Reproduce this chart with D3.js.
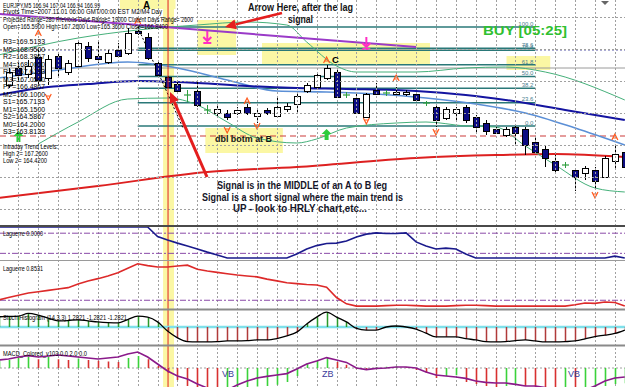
<!DOCTYPE html>
<html>
<head>
<meta charset="utf-8">
<script src="https://cdn.jsdelivr.net/npm/d3@7"></script>
<style>
  body { margin: 0; background: #fff; }
  svg { display: block; font-family: "Liberation Sans", Arial, sans-serif; }
</style>
</head>
<body>
<svg id="chart" width="625" height="387"></svg>
<script>
// EURJPY M5 bars, index 0..62
const open  = [166.875,166.96,166.93,167.015,166.91,167.02,166.94,166.97,167.07,167.02,166.99,167.05,167.035,167.145,167.115,166.985,166.915,166.88,166.825,166.845,166.75,166.735,166.735,166.735,166.765,166.72,166.75,166.72,166.755,166.78,166.845,166.865,166.91,166.94,166.825,166.81,166.715,166.85,166.835,166.83,166.83,166.83,166.785,166.765,166.71,166.735,166.765,166.715,166.685,166.655,166.625,166.665,166.655,166.59,166.555,166.495,166.475,166.45,166.435,166.45,166.415,166.495,166.54];
const high  = [166.96,166.985,167.00,167.05,167.025,167.04,167.00,167.10,167.09,167.10,167.05,167.085,167.16,167.165,167.135,167.00,166.92,166.89,166.85,166.89,166.775,166.775,166.75,166.765,166.78,166.75,166.76,166.815,166.785,166.835,166.885,166.935,166.975,166.96,166.84,166.83,166.835,166.885,166.85,166.865,166.85,166.835,166.795,166.775,166.765,166.765,166.775,166.725,166.70,166.665,166.665,166.675,166.665,166.61,166.575,166.525,166.49,166.46,166.47,166.465,166.52,166.575,166.56];
const low   = [166.86,166.90,166.91,166.875,166.875,166.915,166.925,166.965,166.99,166.985,166.98,167.015,167.025,167.125,167.00,166.915,166.86,166.835,166.79,166.765,166.73,166.71,166.70,166.725,166.725,166.685,166.725,166.715,166.74,166.74,166.835,166.86,166.90,166.81,166.81,166.73,166.71,166.825,166.82,166.825,166.82,166.79,166.77,166.665,166.70,166.70,166.685,166.64,166.625,166.63,166.615,166.575,166.525,166.53,166.465,166.435,166.46,166.345,166.40,166.36,166.41,166.46,166.45];
const close = [166.94,166.925,166.97,166.90,167.005,166.96,166.985,167.085,167.01,167.005,167.035,167.02,167.135,167.135,167.01,166.925,166.865,166.845,166.825,166.775,166.75,166.755,166.715,166.75,166.735,166.735,166.735,166.765,166.77,166.82,166.875,166.925,166.96,166.815,166.825,166.735,166.83,166.83,166.835,166.84,166.84,166.80,166.785,166.70,166.755,166.755,166.70,166.665,166.645,166.635,166.655,166.635,166.575,166.54,166.51,166.45,166.475,166.415,166.46,166.395,166.51,166.53,166.465];

// moving averages and bands, read at sample bars
const navyIdx  = [-1,4,8,13,19,24,29,34,41,46,50,56,62];
const navyVal  = [166.825,166.865,166.88,166.895,166.885,166.87,166.86,166.855,166.845,166.825,166.80,166.75,166.70];
const lightIdx = [-1,5,12,17,22,27,32,37,42,47,52,57,62];
const lightVal = [166.91,166.95,166.99,166.96,166.90,166.845,166.84,166.83,166.81,166.78,166.735,166.66,166.575];
const upperIdx = [-1,7,13,19,24,28,30,33,35,41,46,50,54,62];
const upperVal = [167.025,167.11,167.15,167.175,167.19,167.175,167.09,166.97,166.94,166.94,166.96,166.965,166.94,166.80];
const lowerIdx = [3,7,12,16,19,22,25,29,31,34,39,42,46,49,52,55,59,62];
const lowerVal = [166.58,166.69,166.805,166.81,166.775,166.69,166.61,166.585,166.605,166.66,166.685,166.69,166.67,166.665,166.57,166.475,166.36,166.34];
const redIdx   = [-1,9,20,29,41,49,55,62];
const redVal   = [166.31,166.37,166.44,166.465,166.51,166.525,166.53,166.515];

// trend line, zigzag leg, fibo
const trendIdx = [-1,41], trendVal = [167.23,167.065];
const zigIdx = [13,17.6], zigVal = [167.165,166.655];
const fibIdx = [13,53], fibHigh = 167.165, fibLow = 166.67;
const fibLevels = [100,78.6,76.4,61.8,50,38.2,23.6,0];

// full width levels
const redDashLevel = 166.62, bidLevel = 166.96, dotLevel = 167.05;
const gridPrices = [167.215,167.055,166.895,166.735,166.575,166.415,166.255];

// signals
const fracUpIdx = [3,13,24,32,39,61], fracUpVal = [167.135,167.195,166.795,167.00,166.91,166.615];
const fracDnIdx = [4,22,25,36,43,59], fracDnVal = [166.815,166.65,166.67,166.695,166.64,166.325];
const pinkIdx = [20,36], pinkVal = [167.115,167.085];
const greenIdx = [1,32], greenVal = [166.615,166.625];

// pivots
const pivotNames = ["R3","M5","R2","M4","R1","M3","PP","M2","S1","M1","S2","M0","S3"];
const pivotVals  = [169.5133,168.95,168.3867,168.0,167.6133,167.05,166.4867,166.1,165.7133,165.15,164.5867,164.2,163.8133];

// indicator series, first value is the bar left of candle 0
const lag1 = [1,1,1,1,1,1,1,1,1,1,1,1,1,1,1,1,0.69,0.58,0.48,0.39,0.29,0.19,0.10,0,0,0,0,0,0,0,0.13,0.29,0.40,0.47,0.48,0.55,0.68,0.77,0.81,0.79,0.79,0.81,0.52,0.39,0.29,0.32,0.29,0.13,0,0,0,0,0,0,0,0,0,0,0,0,0,0,0.06,0];
const lag2 = [0.155,0.21,0.26,0.31,0.34,0.37,0.40,0.43,0.51,0.58,0.63,0.69,0.76,0.86,0.96,0.92,0.89,0.89,0.91,0.93,0.84,0.80,0.77,0.74,0.71,0.69,0.67,0.62,0.58,0.54,0.52,0.50,0.49,0.44,0.21,0.07,0.02,0.02,0.02,0.03,0.04,0.04,0.03,0.02,0.02,0.02,0.03,0.04,0.04,0.03,0.02,0.02,0.02,0.02,0.02,0.02,0.02,0.02,0.05,0.09,0.08,0.11,0.10,0.02];
const stoch = [30,31,32,40,35,26,18,19,21,18,15,13,12,22,32,29,15,-12,-32,-43,-44,-44,-43,-41,-41,-40,-38,-38,-34,-26,-15,9,29,44,29,15,-4,-9,-9,0,3,0,-6,-18,-29,-29,-29,-34,-38,-43,-44,-43,-40,-38,-41,-44,-44,-43,-41,-35,-28,-24,-19,-9];
const macdBar = [0.018,0.02,0.025,0.028,0.022,0.028,0.022,0.02,0.024,0.02,0.018,0.016,0.015,0.025,0.03,0.022,0.005,-0.012,-0.03,-0.045,-0.05,-0.055,-0.06,-0.055,-0.05,-0.048,-0.046,-0.045,-0.042,-0.035,-0.02,0.012,0.018,0.025,0.015,0.008,-0.002,-0.004,0.002,0.003,0.004,0.002,-0.005,-0.012,-0.025,-0.02,-0.018,-0.035,-0.04,-0.045,-0.05,-0.045,-0.04,-0.045,-0.05,-0.055,-0.06,-0.058,-0.06,-0.055,-0.05,-0.045,-0.04,-0.038];
const macdSig = [0.02,0.0225,0.0275,0.031,0.0275,0.03,0.0325,0.03,0.0275,0.025,0.0225,0.025,0.0275,0.035,0.04,0.0275,0.01,-0.0075,-0.02,-0.0275,-0.04,-0.05,-0.0575,-0.055,-0.0425,-0.0325,-0.025,-0.021,-0.0175,-0.014,-0.0025,0.01,0.0175,0.026,0.02,0.014,0,-0.004,-0.001,0,0.0025,0.0025,0,-0.01,-0.0175,-0.02,-0.0225,-0.026,-0.0325,-0.036,-0.0375,-0.0375,-0.041,-0.045,-0.045,-0.049,-0.0525,-0.0575,-0.06,-0.055,-0.045,-0.0325,-0.025,-0.0225];
const lagLevels1 = [0.8,0.15], lagLevels2 = [0.15];

const W = 625, H = 387;
const svg = d3.select("#chart");

var x = d3.scaleLinear().domain([0, 62]).range([8.5, 624.8]);
var y = d3.scaleLinear().domain([166.175, 167.30]).range([225, 0]);
var yL1 = d3.scaleLinear().domain([0, 1]).range([258, 227]);
var yL2 = d3.scaleLinear().domain([0, 1]).range([307, 262]);
var yS = d3.scaleLinear().domain([-50, 50]).range([344, 310]);
var yM = d3.scaleLinear().domain([-0.05, 0.05]).range([388, 348]);

const defs = svg.append("defs");
[["cMain",0,225],["cL1",226.5,33],["cL2",261,47],["cS",310.5,34.5],["cM",346.5,41]].forEach(([id,top,h]) => {
  defs.append("clipPath").attr("id", id).append("rect")
    .attr("x", 0).attr("y", top).attr("width", W).attr("height", h);
});

const yellow = "#fbf7a4";

// highlight column at the signal bar
svg.append("rect")
  .attr("x", x(15.55)).attr("y", 0)
  .attr("width", x(16.65) - x(15.55)).attr("height", H)
  .attr("fill", yellow);

const main = svg.append("g").attr("clip-path", "url(#cMain)");

// highlight boxes (bar index / price)
const boxes = [[11.2,16.8,167.30,167.255],[19,22.9,167.20,167.025],[25.5,42.4,167.085,166.975],[50.1,54.5,167.02,166.95],[19.8,27.6,166.66,166.535]];
main.selectAll("rect.hl").data(boxes).enter().append("rect")
  .attr("x", d => x(d[0])).attr("y", d => y(d[2]))
  .attr("width", d => x(d[1]) - x(d[0])).attr("height", d => y(d[3]) - y(d[2]))
  .attr("fill", yellow);

// grid
const grid = svg.append("g").attr("stroke", "#a0a0a0").attr("stroke-dasharray", "2,2").attr("stroke-width", 1);
grid.selectAll("line.v").data(d3.range(1, 62, 2)).enter().append("line")
  .attr("x1", d => Math.round(x(d)) + 0.5).attr("x2", d => Math.round(x(d)) + 0.5)
  .attr("y1", 0).attr("y2", H);
grid.selectAll("line.h").data(gridPrices).enter().append("line")
  .attr("x1", 0).attr("x2", W)
  .attr("y1", d => Math.round(y(d)) + 0.5).attr("y2", d => Math.round(y(d)) + 0.5);

// full width levels
main.append("line").attr("x1", 0).attr("x2", W).attr("y1", y(bidLevel)).attr("y2", y(bidLevel))
  .attr("stroke", "#9a9a9a").attr("stroke-width", 1);
main.append("line").attr("x1", 0).attr("x2", W).attr("y1", y(dotLevel)).attr("y2", y(dotLevel))
  .attr("stroke", "#5a5aa8").attr("stroke-dasharray", "2,2").attr("stroke-width", 1);
main.append("line").attr("x1", 0).attr("x2", W).attr("y1", y(redDashLevel)).attr("y2", y(redDashLevel))
  .attr("stroke", "#cc3a3a").attr("stroke-dasharray", "6,4").attr("stroke-width", 1.2);

// fibo levels
const fibY = lv => y(fibLow + (fibHigh - fibLow) * lv / 100);
main.selectAll("line.fib").data(fibLevels).enter().append("line")
  .attr("x1", x(fibIdx[0])).attr("x2", x(fibIdx[1]))
  .attr("y1", fibY).attr("y2", fibY)
  .attr("stroke", "#2a7878").attr("stroke-width", 1.5);
main.selectAll("text.fib").data(fibLevels).enter().append("text")
  .attr("x", x(fibIdx[1]) - 2).attr("y", d => fibY(d) - 1.2)
  .attr("text-anchor", "end").attr("font-size", 6).attr("fill", "#4a8090")
  .text(d => d.toFixed(1));

// averages and bands
const curve = d3.line().x(d => x(d[0])).y(d => y(d[1])).curve(d3.curveMonotoneX);
function drawLine(idx, val, color, w) {
  main.append("path").datum(idx.map((d, i) => [d, val[i]]))
    .attr("d", curve).attr("fill", "none").attr("stroke", color).attr("stroke-width", w);
}
drawLine(redIdx, redVal, "#dd2020", 2);
drawLine(upperIdx, upperVal, "#45b07a", 1);
drawLine(lowerIdx, lowerVal, "#45b07a", 1);
drawLine(lightIdx, lightVal, "#5b8fd6", 1.6);
drawLine(navyIdx, navyVal, "#1414a0", 2);

main.append("line")
  .attr("x1", x(trendIdx[0])).attr("y1", y(trendVal[0]))
  .attr("x2", x(trendIdx[1])).attr("y2", y(trendVal[1]))
  .attr("stroke", "#9a3ac8").attr("stroke-width", 2);
main.append("line")
  .attr("x1", x(zigIdx[0])).attr("y1", y(zigVal[0]))
  .attr("x2", x(zigIdx[1])).attr("y2", y(zigVal[1]))
  .attr("stroke", "#000").attr("stroke-dasharray", "2,2").attr("stroke-width", 1);

// candles
const bars = open.map((o, i) => ({i: i, o: o, h: high[i], l: low[i], c: close[i]}));
const px = d => Math.round(x(d.i)) + 0.5;
main.selectAll("line.wick").data(bars).enter().append("line")
  .attr("x1", px).attr("x2", px)
  .attr("y1", d => y(d.h)).attr("y2", d => y(d.l))
  .attr("stroke", d => d.o === d.c ? "#2e9e3e" : "#000").attr("stroke-width", 1);
main.selectAll("rect.body").data(bars.filter(d => d.o !== d.c)).enter().append("rect")
  .attr("x", d => px(d) - 3).attr("width", 6)
  .attr("y", d => Math.round(y(Math.max(d.o, d.c))) + 0.5)
  .attr("height", d => Math.max(1, Math.round(y(Math.min(d.o, d.c)) - y(Math.max(d.o, d.c)))))
  .attr("fill", d => d.c < d.o ? "#0c0c82" : "#fff")
  .attr("stroke", "#000").attr("stroke-width", 1);
main.selectAll("line.doji").data(bars.filter(d => d.o === d.c)).enter().append("line")
  .attr("x1", d => px(d) - 3.5).attr("x2", d => px(d) + 3.5)
  .attr("y1", d => y(d.o)).attr("y2", d => y(d.o))
  .attr("stroke", "#2e9e3e").attr("stroke-width", 1.2);

// fractal marks
main.selectAll("path.fu").data(fracUpIdx.map((d, i) => [d, fracUpVal[i]])).enter().append("path")
  .attr("transform", d => `translate(${x(d[0])},${y(d[1])})`)
  .attr("d", "M-3,3L0,-3L3,3M-1.5,1H1.5").attr("fill", "none")
  .attr("stroke", "#ff5a1e").attr("stroke-width", 1.2);
main.selectAll("path.fd").data(fracDnIdx.map((d, i) => [d, fracDnVal[i]])).enter().append("path")
  .attr("transform", d => `translate(${x(d[0])},${y(d[1])})`)
  .attr("d", "M-3,-3L0,3L3,-3M-1.5,-1H1.5").attr("fill", "none")
  .attr("stroke", "#ff5a1e").attr("stroke-width", 1.2);

// signal arrows
main.selectAll("path.pink").data(pinkIdx.map((d, i) => [d, pinkVal[i]])).enter().append("path")
  .attr("transform", d => `translate(${x(d[0])},${y(d[1])})`)
  .attr("d", "M0,-6V4M-4,0L0,4L4,0M-4,6H4").attr("fill", "none")
  .attr("stroke", "#ff2ec4").attr("stroke-width", 2);
main.selectAll("path.green").data(greenIdx.map((d, i) => [d, greenVal[i]])).enter().append("path")
  .attr("transform", d => `translate(${x(d[0])},${y(d[1])})`)
  .attr("d", "M0,-6L5,-1L2,-1L2,5L-2,5L-2,-1L-5,-1Z")
  .attr("fill", "#2ecc3a");

// signal bar marker line
svg.append("line").attr("x1", x(16.05)).attr("x2", x(16.05)).attr("y1", 0).attr("y2", H)
  .attr("stroke", "#e02020").attr("stroke-width", 1);

// ---- indicator panels ----
const ind = lag1.map((d, i) => i - 1);

const g1 = svg.append("g").attr("clip-path", "url(#cL1)");
g1.selectAll("line.lv").data(lagLevels1).enter().append("line")
  .attr("x1", 0).attr("x2", W).attr("y1", yL1).attr("y2", yL1)
  .attr("stroke", "#8a4aa8").attr("stroke-dasharray", "6,2,2,2");
g1.append("path").datum(lag1)
  .attr("d", d3.line().x((d, i) => x(ind[i])).y(d => yL1(d)))
  .attr("fill", "none").attr("stroke", "#1a1a8c").attr("stroke-width", 1.6);

const g2 = svg.append("g").attr("clip-path", "url(#cL2)");
g2.selectAll("line.lv").data(lagLevels2).enter().append("line")
  .attr("x1", 0).attr("x2", W).attr("y1", yL2).attr("y2", yL2)
  .attr("stroke", "#8a4aa8").attr("stroke-dasharray", "6,2,2,2");
g2.append("path").datum(lag2)
  .attr("d", d3.line().x((d, i) => x(ind[i])).y(d => yL2(d)))
  .attr("fill", "none").attr("stroke", "#dd2a2a").attr("stroke-width", 1.6);

const g3 = svg.append("g").attr("clip-path", "url(#cS)");
g3.append("line").attr("x1", 0).attr("x2", W).attr("y1", yS(0)).attr("y2", yS(0))
  .attr("stroke", "#7fe0ea").attr("stroke-width", 2.5);
g3.selectAll("line.sb").data(stoch).enter().append("line")
  .attr("x1", (d, i) => Math.round(x(ind[i])) + 0.5).attr("x2", (d, i) => Math.round(x(ind[i])) + 0.5)
  .attr("y1", yS(0)).attr("y2", d => yS(d))
  .attr("stroke", d => d > 0 ? "#2a9a2a" : "#b03a3a").attr("stroke-width", 1.5);
g3.append("path").datum(stoch)
  .attr("d", d3.line().x((d, i) => x(ind[i])).y(d => yS(d)).curve(d3.curveMonotoneX))
  .attr("fill", "none").attr("stroke", "#000").attr("stroke-width", 1.3);

const g4 = svg.append("g").attr("clip-path", "url(#cM)");
g4.append("line").attr("x1", 0).attr("x2", W).attr("y1", yM(0)).attr("y2", yM(0))
  .attr("stroke", "#a0a0a0").attr("stroke-dasharray", "2,2");
g4.selectAll("line.mb").data(macdBar).enter().append("line")
  .attr("x1", (d, i) => Math.round(x(ind[i])) + 0.5).attr("x2", (d, i) => Math.round(x(ind[i])) + 0.5)
  .attr("y1", yM(0)).attr("y2", d => yM(d))
  .attr("stroke", (d, i) => i === 0 || d >= macdBar[i - 1] ? "#3ad23a" : "#d83030")
  .attr("stroke-width", 1.6);
g4.append("path").datum(macdSig)
  .attr("d", d3.line().x((d, i) => x(ind[i])).y(d => yM(d)))
  .attr("fill", "none").attr("stroke", "#8a1a8a").attr("stroke-width", 1.6);

// separators
svg.append("line").attr("x1", 0).attr("x2", W).attr("y1", 226).attr("y2", 226).attr("stroke", "#4a4a4a").attr("stroke-width", 2);
svg.append("line").attr("x1", 0).attr("x2", W).attr("y1", 260.5).attr("y2", 260.5).attr("stroke", "#9a9a9a").attr("stroke-width", 1);
svg.append("line").attr("x1", 0).attr("x2", W).attr("y1", 309.5).attr("y2", 309.5).attr("stroke", "#8a8a8a").attr("stroke-width", 2);
svg.append("line").attr("x1", 0).attr("x2", W).attr("y1", 345.5).attr("y2", 345.5).attr("stroke", "#8a8a8a").attr("stroke-width", 2);

// ---- texts ----
function label(x0, y0, str, o) {
  o = o || {};
  const t = svg.append("text").attr("x", x0).attr("y", y0).text(str)
    .attr("font-size", o.size || 7).attr("fill", o.fill || "#000");
  if (o.bold) t.attr("font-weight", "bold");
  if (o.len) t.attr("textLength", o.len).attr("lengthAdjust", "spacingAndGlyphs");
  return t;
}
label(3, 7.5, "EURJPY,M5  166.94 167.04 166.94 166.99", {size: 6.5, len: 97});
label(3, 14.3, "Pivots Time=2007.11.01 06:00 GMT/00:00 EST M2/M4 Day", {size: 6.5, len: 159});
label(3, 21.6, "Projected Range=280 Previous Days Range= 19000 Current Days Range= 2600", {size: 6.5, len: 190});
label(3, 29, "Open=165.5900 High=167.2600 Low=165.3600 Close=166.8400", {size: 6.5, len: 165});
pivotNames.forEach((n, i) => label(3, 44.2 + 7.5 * i, n + "=" + pivotVals[i].toFixed(4), {size: 7, len: 42}));
label(3, 148.5, "Intraday Trend Levels:", {size: 7, len: 55});
label(3, 155.8, "High 2= 167.2600", {size: 7, len: 45});
label(3, 163.3, "Low 2= 164.4200", {size: 7, len: 44});

label(3, 235.5, "Laguerre 0.0000", {size: 6.5, len: 40});
label(3, 270.5, "Laguerre 0.8531", {size: 6.5, len: 40});
label(3, 319.5, "Stoch Histogram (14,3,3) 1.2821 -1.2821 -1.2821", {size: 6.5, len: 124});
label(3, 356, "MACD_Colored_v103 0.0 2.0 0.0", {size: 6.5, len: 84});
label(222, 376.5, "VB", {size: 9, fill: "#3a3a9a"});
label(322, 376.5, "ZB", {size: 9, fill: "#3a3a9a"});
label(568, 376.5, "VB", {size: 9, fill: "#3a3a9a"});

label(143, 8.8, "A", {size: 10, bold: true});
label(332, 63, "C", {size: 9.5, bold: true});
label(483, 35, "BUY  [05:25]", {size: 13, bold: true, fill: "#30c030", len: 84});
label(248, 11, "Arrow Here, after the lag", {size: 10, bold: true, fill: "#151515", len: 105});
label(288, 23, "signal", {size: 10, bold: true, fill: "#151515", len: 25});
label(215, 141.5, "dbl botm at B", {size: 9.5, bold: true, fill: "#151515", len: 57});
label(217, 188.5, "Signal is in the MIDDLE of an A to B leg", {size: 10, bold: true, fill: "#151528", len: 170});
label(202, 200.5, "Signal is a short signal where the main trend is", {size: 10, bold: true, fill: "#151528", len: 201});
label(233, 211.5, "UP - look to HRLY chart,etc...", {size: 10, bold: true, fill: "#151528", len: 134});

// annotation arrows
function arrow(x1, y1, x2, y2, w) {
  const a = Math.atan2(y2 - y1, x2 - x1), L = 11, hw = 5;
  const bx = x2 - L * Math.cos(a), by = y2 - L * Math.sin(a);
  svg.append("line").attr("x1", x1).attr("y1", y1).attr("x2", bx).attr("y2", by)
    .attr("stroke", "#e41e1e").attr("stroke-width", w);
  svg.append("path")
    .attr("d", `M${x2},${y2}L${bx - hw * Math.sin(a)},${by + hw * Math.cos(a)}L${bx + hw * Math.sin(a)},${by - hw * Math.cos(a)}Z`)
    .attr("fill", "#e41e1e");
}
arrow(282, 13, 225, 27, 2.5);
arrow(207, 177, 170, 92, 3);

svg.append("path").attr("d", "M601,1L609,1L605,5Z").attr("fill", "#666");
</script>
</body>
</html>
